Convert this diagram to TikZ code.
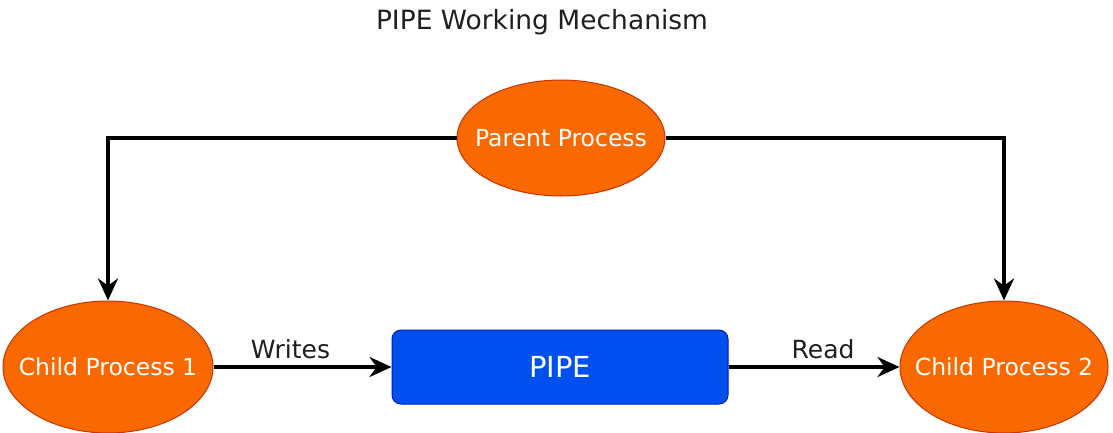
\documentclass[tikz,border=0pt]{standalone}
\usepackage{fontspec}
\setmainfont{DejaVu Sans}
\usetikzlibrary{shapes.geometric,arrows.meta}
\definecolor{procfill}{HTML}{FA6800}
\definecolor{procdraw}{HTML}{C73500}
\definecolor{pipefill}{HTML}{0050EF}
\definecolor{pipedraw}{HTML}{001DBC}
\newcommand{\ctext}[1]{\makebox[0pt]{#1}}
\begin{document}
\begin{tikzpicture}[x=1pt,y=-1pt,
  proc/.style={ellipse, fill=procfill, draw=procdraw, line width=1pt, text=white, font=\fontsize{23.5}{26}\selectfont, minimum width=#1, inner sep=0pt},
  proc/.default=208pt,
  pipebox/.style={rectangle, rounded corners=9pt, fill=pipefill, draw=pipedraw, line width=1pt, text=white, minimum width=336pt, minimum height=74pt, font=\fontsize{29}{32}\selectfont},
  conn/.style={line width=3.4pt, -{Stealth[length=22pt,width=20pt]}},
  lbl/.style={font=\fontsize{25}{28}\selectfont, text=black!88}
]
\useasboundingbox (0,0) rectangle (1113,432);
\node[font=\fontsize{26.5}{30}\selectfont, text=black!88] (title) at (542,22) {PIPE Working Mechanism};
\node[proc, minimum height=116pt] (parent) at (561,138) {\ctext{Parent Process}};
\node[proc=210pt, minimum height=132pt] (c1) at (108,367) {\ctext{Child Process 1}};
\node[proc, minimum height=132pt] (c2) at (1004,367) {\ctext{Child Process 2}};
\node[pipebox] (pipe) at (560,367) {PIPE};
\coordinate (lt) at (c1.north |- parent.west);
\coordinate (rt) at (c2.north |- parent.east);
\draw[conn] (parent.west) -- (lt) -- (c1.north);
\draw[conn] (parent.east) -- (rt) -- (c2.north);
\draw[conn] (c1.east) -- node[lbl, above=3pt, xshift=-12pt] {Writes} (pipe.west);
\draw[conn] (pipe.east) -- node[lbl, above=3pt, xshift=9pt] {Read} (c2.west);
\end{tikzpicture}
\end{document}
